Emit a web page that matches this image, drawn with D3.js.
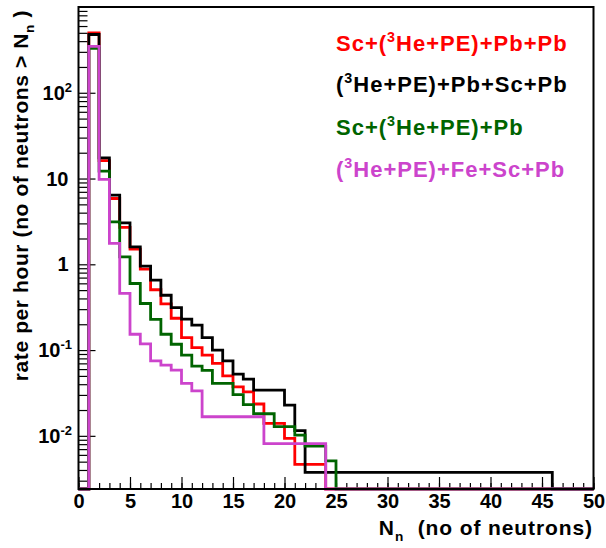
<!DOCTYPE html>
<html>
<head>
<meta charset="utf-8">
<script src="https://cdn.jsdelivr.net/npm/d3@7"></script>
<style>
  body { margin: 0; background: #fff; }
  svg { display: block; font-family: 'Liberation Sans', Arial, sans-serif; font-weight: bold; }
  text { white-space: pre; }
</style>
</head>
<body>
<div id="chart"></div>
<script>
// lower edge of every bin (width 1), N_n = 0 .. 49
const binEdges = [0, 1, 2, 3, 4, 5, 6, 7, 8, 9, 10, 11, 12, 13, 14, 15, 16, 17, 18, 19,
  20, 21, 22, 23, 24, 25, 26, 27, 28, 29, 30, 31, 32, 33, 34, 35, 36, 37, 38, 39,
  40, 41, 42, 43, 44, 45, 46, 47, 48, 49];

// rate per hour, one value per bin
const rateScHePbPb = [0, 500, 16.2, 5.85, 2.69, 1.50, 0.877, 0.505, 0.345, 0.235,
  0.140, 0.107, 0.0872, 0.0698, 0.0501, 0.0373, 0.0326, 0.0235, 0.0140, 0.0140,
  0.00934, 0.00464, 0.00464, 0.00464, 0, 0, 0, 0, 0, 0,
  0, 0, 0, 0, 0, 0, 0, 0, 0, 0,
  0, 0, 0, 0, 0, 0, 0, 0, 0, 0];
const rateHePbScPb = [0, 478, 17.4, 6.39, 3.04, 1.60, 0.95, 0.653, 0.436, 0.313,
  0.229, 0.195, 0.140, 0.0997, 0.0748, 0.0524, 0.0458, 0.0341, 0.0341, 0.0341,
  0.0228, 0.0115, 0.00375, 0.00375, 0.00375, 0.00375, 0.00375, 0.00375, 0.00375, 0.00375,
  0.00375, 0.00375, 0.00375, 0.00375, 0.00375, 0.00375, 0.00375, 0.00375, 0.00375, 0.00375,
  0.00375, 0.00375, 0.00375, 0.00375, 0.00375, 0.00375, 0, 0, 0, 0];
const rateScHePb = [0, 330, 12.2, 3.12, 1.22, 0.597, 0.349, 0.228, 0.153, 0.117,
  0.0872, 0.065, 0.058, 0.0408, 0.0408, 0.0302, 0.0231, 0.0181, 0.0181, 0.0128,
  0.0128, 0.0102, 0.0076, 0.0076, 0.0051, 0, 0, 0, 0, 0,
  0, 0, 0, 0, 0, 0, 0, 0, 0, 0,
  0, 0, 0, 0, 0, 0, 0, 0, 0, 0];
const rateHeFeScPb = [0, 348, 9.8, 1.75, 0.457, 0.153, 0.118, 0.075, 0.0667, 0.0583,
  0.041, 0.0335, 0.0167, 0.0167, 0.0167, 0.0167, 0.0167, 0.0167, 0.0081, 0.0081,
  0.0081, 0.0081, 0.0081, 0.0081, 0, 0, 0, 0, 0, 0,
  0, 0, 0, 0, 0, 0, 0, 0, 0, 0,
  0, 0, 0, 0, 0, 0, 0, 0, 0, 0];

const seriesNames = ['Sc+(^{3}He+PE)+Pb+Pb', '(^{3}He+PE)+Pb+Sc+Pb', 'Sc+(^{3}He+PE)+Pb', '(^{3}He+PE)+Fe+Sc+Pb'];
const seriesColors = ['#ff0000', '#000000', '#006400', '#cc44cc'];

const xTickValues = [0, 5, 10, 15, 20, 25, 30, 35, 40, 45, 50];
const yTickValues = [0.01, 0.1, 1, 10, 100];
const yTickLabels = ['10^{-2}', '10^{-1}', '1', '10', '10^{2}'];

const xTitle = 'N_{n}  (no of neutrons)';
const yTitle = 'rate per hour (no of neutrons > N_{n} )';

const width = 606;
const height = 548;
const frame = { left: 78.5, right: 593.5, top: 7, bottom: 489 };

// small ROOT-like latex: ^{..} superscript, _{..} subscript
const latex = (sel, str, size) => {
  const parts = str.split(/(\^\{[^}]*\}|_\{[^}]*\})/).filter(s => s !== '');
  let shift = 0;
  parts.forEach(p => {
    let dy = 0, fs = size, t = p;
    if (p.startsWith('^{')) { t = p.slice(2, -1); fs = size * 0.65; dy = -size * 0.4; }
    else if (p.startsWith('_{')) { t = p.slice(2, -1); fs = size * 0.65; dy = size * 0.28; }
    sel.append('tspan').attr('dy', dy - shift).attr('font-size', fs).text(t);
    shift = dy;
  });
};

const svg = d3.select('#chart')
  .append('svg')
    .attr('width', width)
    .attr('height', height);

const x = d3.scaleLinear()
  .domain([0, 50])
  .range([frame.left, frame.right]);

const y = d3.scaleLog()
  .domain([0.0024, 1000])
  .range([frame.bottom, frame.top]);

// histograms
const series = [rateScHePbPb, rateHePbScPb, rateScHePb, rateHeFeScPb];
const yOf = v => v > 0 ? y(v) : frame.bottom;

const stepPath = values => {
  let d = `M${x(binEdges[0])},${yOf(values[0])}`;
  values.forEach((v, i) => {
    if (i > 0) d += `V${yOf(v)}`;
    d += `H${x(binEdges[i] + 1)}`;
  });
  return d;
};

svg.append('defs').append('clipPath')
    .attr('id', 'plot-clip')
  .append('rect')
    .attr('x', frame.left)
    .attr('y', frame.top)
    .attr('width', frame.right - frame.left)
    .attr('height', frame.bottom - frame.top + 2);

// axes (ticks inside the frame)
const xMinor = d3.range(0, 51);
svg.append('g')
    .attr('transform', `translate(0,${frame.bottom})`)
    .call(d3.axisBottom(x).tickValues(xMinor).tickSizeInner(-6).tickSizeOuter(0).tickFormat(''))
    .call(g => g.select('.domain').remove());

svg.append('g')
    .attr('class', 'x-axis')
    .attr('transform', `translate(0,${frame.bottom})`)
    .call(d3.axisBottom(x).tickValues(xTickValues).tickSizeInner(-12).tickSizeOuter(0).tickPadding(5))
    .call(g => g.select('.domain').remove())
    .call(g => g.selectAll('text')
      .attr('font-size', 20)
      .attr('font-family', null)
      .attr('fill', '#000'));

const yMinor = [];
[0.001, 0.01, 0.1, 1, 10, 100].forEach(dec => {
  [2, 3, 4, 5, 6, 7, 8, 9].forEach(k => {
    const v = k * dec;
    if (v > 0.0024 && v < 1000) yMinor.push(v);
  });
});

svg.append('g')
    .attr('transform', `translate(${frame.left},0)`)
    .call(d3.axisLeft(y).tickValues(yMinor).tickSizeInner(-9).tickSizeOuter(0).tickFormat(''))
    .call(g => g.select('.domain').remove());

svg.append('g')
    .attr('class', 'y-axis')
    .attr('transform', `translate(${frame.left},0)`)
    .call(d3.axisLeft(y).tickValues(yTickValues).tickSizeInner(-17).tickSizeOuter(0).tickFormat(''))
    .call(g => g.select('.domain').remove());

svg.selectAll('.tick line').attr('stroke', '#000').attr('stroke-width', 1.2);

// y tick labels with exponents
yTickValues.forEach((v, i) => {
  const lbl = yTickLabels[i];
  const t = svg.append('text')
    .attr('x', lbl.includes('^') ? 72 : 68.5)
    .attr('y', y(v) + 7)
    .attr('text-anchor', 'end')
    .attr('font-size', 20);
  latex(t, lbl, 20);
});

const plot = svg.append('g').attr('clip-path', 'url(#plot-clip)');

plot.selectAll('path.hist')
  .data(series)
  .enter().append('path')
    .attr('class', 'hist')
    .attr('d', stepPath)
    .attr('fill', 'none')
    .attr('stroke', (d, i) => seriesColors[i])
    .attr('stroke-width', 2.8)
    .attr('stroke-linejoin', 'miter')
    .attr('stroke-linecap', 'square');

// frame
svg.append('rect')
    .attr('x', frame.left)
    .attr('y', frame.top)
    .attr('width', frame.right - frame.left)
    .attr('height', frame.bottom - frame.top)
    .attr('fill', 'none')
    .attr('stroke', '#000')
    .attr('stroke-width', 2);

// legend
const legend = svg.append('g');
const legendBaselines = [50.5, 92, 135, 177];
seriesNames.forEach((name, i) => {
  const t = legend.append('text')
    .attr('x', 336)
    .attr('y', legendBaselines[i])
    .attr('fill', seriesColors[i])
    .attr('font-size', 22)
    .attr('letter-spacing', 1);
  latex(t, name, 22);
});

// axis titles
const xt = svg.append('text')
    .attr('x', 593)
    .attr('y', 535)
    .attr('text-anchor', 'end')
    .attr('font-size', 21)
    .attr('letter-spacing', 0.9);
latex(xt, xTitle, 21);

const yt = svg.append('text')
    .attr('transform', 'translate(28,10) rotate(-90)')
    .attr('text-anchor', 'end')
    .attr('font-size', 21)
    .attr('letter-spacing', 0.6);
latex(yt, yTitle, 21);
</script>
</body>
</html>
